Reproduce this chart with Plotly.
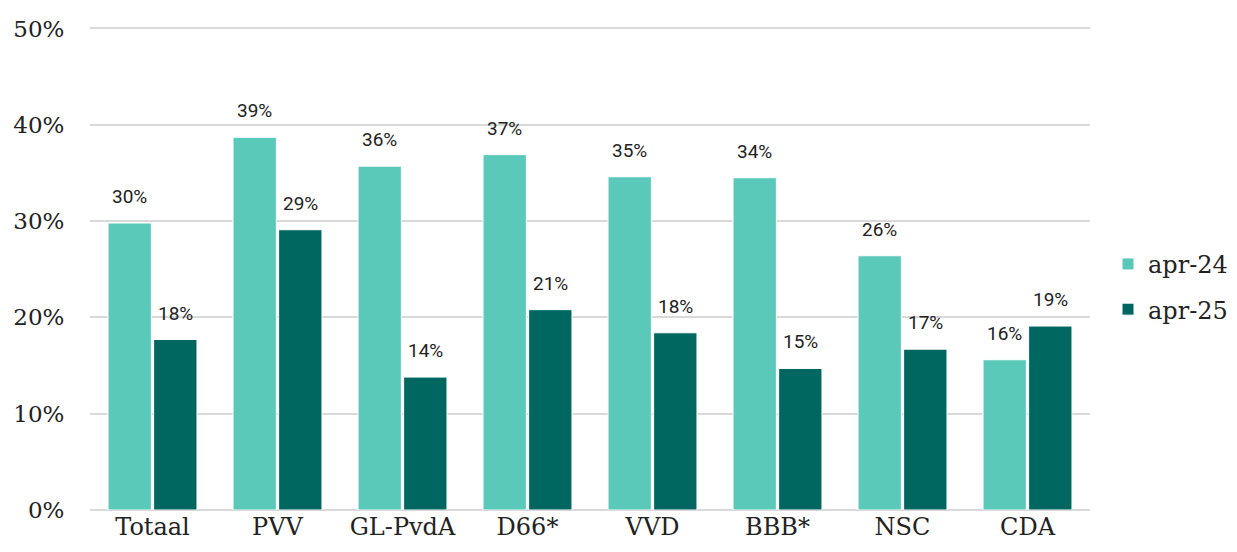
import plotly.graph_objects as go

categories = ["Totaal", "PVV", "GL-PvdA", "D66*", "VVD", "BBB*", "NSC", "CDA"]
apr24 = [29.8, 38.7, 35.7, 36.9, 34.6, 34.5, 26.4, 15.6]
apr25 = [17.7, 29.1, 13.8, 20.8, 18.4, 14.7, 16.7, 19.1]
series_names = ["apr-24", "apr-25"]
colors = ["#5BC9BA", "#006660"]
yticks = [0, 10, 20, 30, 40, 50]

fig = go.Figure()
for name, vals, col, grp in zip(series_names, [apr24, apr25], colors, ["a", "b"]):
    fig.add_trace(go.Bar(
        x=categories, y=vals, name=name, legendgroup=grp,
        marker=dict(color=col, line=dict(color="#ffffff", width=1)),
    ))

# value labels
for vals, shift in [(apr24, -23), (apr25, 23)]:
    for c, v in zip(categories, vals):
        fig.add_annotation(
            x=c, y=v, text=f"{round(v):.0f}%", showarrow=False,
            xshift=shift, yshift=13, yanchor="bottom",
            font=dict(family="Roboto", size=19, color="#222222"),
        )

fig.update_layout(
    width=1237, height=552,
    margin=dict(l=82, r=155, t=19, b=50),
    plot_bgcolor="white", paper_bgcolor="white",
    barmode="group", bargap=0.27, bargroupgap=0.05,
    showlegend=True,
    legend=dict(
        x=1.018, xanchor="left", y=0.462, yanchor="middle",
        font=dict(family="DejaVu Serif", size=24, color="#222222"),
        traceorder="grouped", tracegroupgap=11,
        itemwidth=30,
    ),
    xaxis=dict(
        tickfont=dict(family="DejaVu Serif", size=24, color="#222222"),
        showgrid=False, showline=False, ticks="", automargin=False,
    ),
    yaxis=dict(
        range=[0, 50.15], tickvals=yticks,
        ticktext=[f"{t}%" for t in yticks],
        tickfont=dict(family="DejaVu Serif", size=23, color="#222222"),
        showgrid=True, gridcolor="#d9d9d9", gridwidth=2,
        zeroline=True, zerolinecolor="#d9d9d9", zerolinewidth=2,
        ticks="outside", ticklen=20, tickcolor="white",
        showline=False, automargin=False,
    ),
)

fig.write_html("out.html")
